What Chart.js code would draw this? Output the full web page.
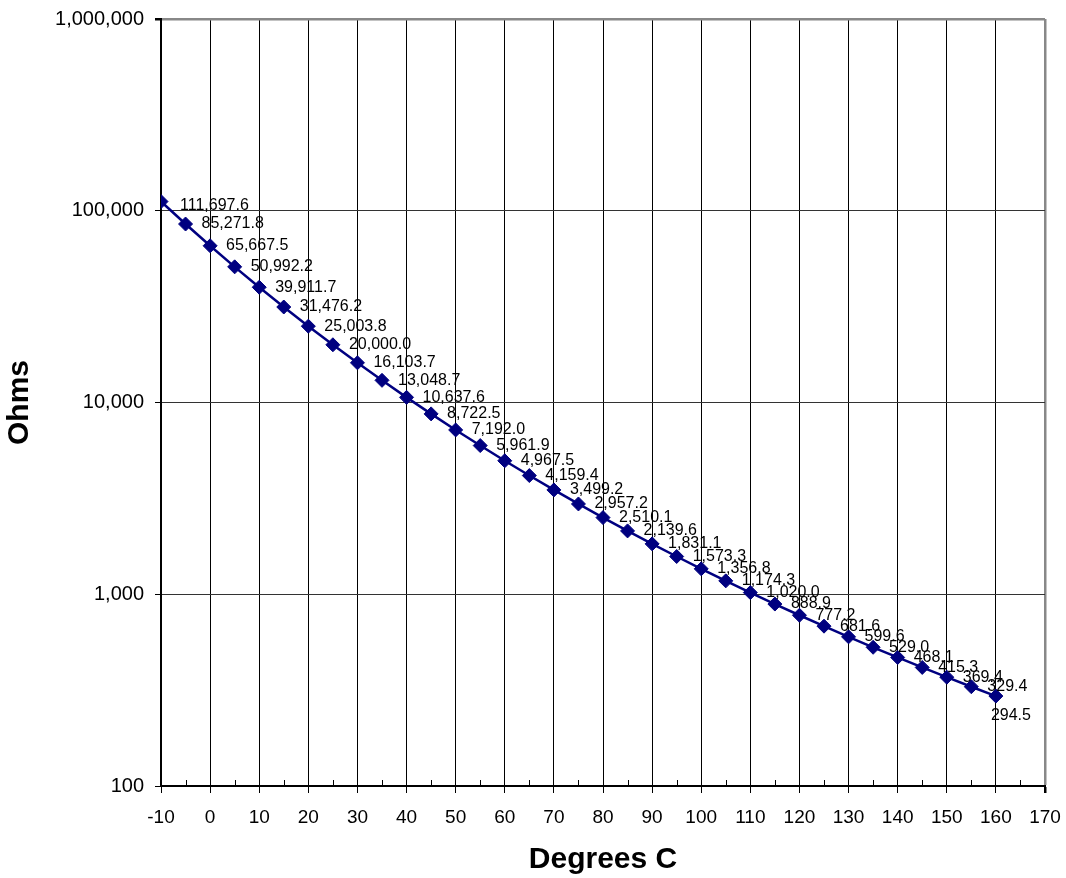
<!DOCTYPE html>
<html>
<head>
<meta charset="utf-8">
<script src="https://cdn.jsdelivr.net/npm/chart.js@4/dist/chart.umd.min.js"></script>
<style>
  body { margin: 0; background: #fff; }
  canvas { display: block; }
</style>
</head>
<body>
<canvas id="thermChart" width="1066" height="878"></canvas>
<script>
const temps = [-10, -5, 0, 5, 10, 15, 20, 25, 30, 35, 40, 45, 50, 55, 60, 65, 70, 75, 80, 85,
  90, 95, 100, 105, 110, 115, 120, 125, 130, 135, 140, 145, 150, 155, 160];
const ohms = [111697.6, 85271.8, 65667.5, 50992.2, 39911.7, 31476.2, 25003.8, 20000.0, 16103.7,
  13048.7, 10637.6, 8722.5, 7192.0, 5961.9, 4967.5, 4159.4, 3499.2, 2957.2, 2510.1, 2139.6,
  1831.1, 1573.3, 1356.8, 1174.3, 1020.0, 888.9, 777.2, 681.6, 599.6, 529.0, 468.1, 415.3,
  369.4, 329.4, 294.5];
const yTicks = [100, 1000, 10000, 100000, 1000000];
const xMinorTicks = [-5, 5, 15, 25, 35, 45, 55, 65, 75, 85, 95, 105, 115, 125, 135, 145, 155, 165];

const FONT = "Arial, 'Liberation Sans', sans-serif";

// point labels, drawn to the right of each marker (last one sits under it)
const pointLabels = {
  id: 'pointLabels',
  afterDatasetsDraw(chart) {
    const ctx = chart.ctx;
    const pts = chart.getDatasetMeta(0).data;
    ctx.save();
    ctx.font = '16px ' + FONT;
    ctx.fillStyle = '#000';
    ctx.textAlign = 'left';
    ctx.textBaseline = 'middle';
    pts.forEach((p, i) => {
      const txt = ohms[i].toLocaleString('en-US', {minimumFractionDigits: 1, maximumFractionDigits: 1});
      if (i === pts.length - 1) {
        ctx.fillText(txt, p.x - 5, p.y + 20);
      } else if (i === 0) {
        ctx.fillText(txt, p.x + 19, p.y + 4);
      } else {
        ctx.fillText(txt, p.x + 16, p.y);
      }
    });
    ctx.restore();
  }
};

// small ticks between the labelled ones, pointing up into the plot
const minorTicks = {
  id: 'minorTicks',
  afterDraw(chart) {
    const ctx = chart.ctx;
    const x = chart.scales.x;
    const bottom = chart.chartArea.bottom;
    ctx.save();
    ctx.strokeStyle = '#000';
    ctx.lineWidth = 1;
    ctx.beginPath();
    xMinorTicks.forEach(v => {
      const px = Math.round(x.getPixelForValue(v)) + 0.5;
      ctx.moveTo(px, bottom - 6);
      ctx.lineTo(px, bottom);
    });
    ctx.stroke();
    ctx.restore();
  }
};

new Chart('thermChart', {
  type: 'line',
  data: {
    datasets: [{
      data: temps.map((t, i) => ({x: t, y: ohms[i]})),
      borderColor: '#000080',
      backgroundColor: '#000080',
      borderWidth: 2.5,
      pointStyle: 'rectRot',
      pointRadius: 7,
      pointBorderWidth: 1,
      pointBackgroundColor: '#000080',
      pointBorderColor: '#000080',
      tension: 0
    }]
  },
  options: {
    responsive: false,
    animation: false,
    devicePixelRatio: 1,
    layout: { padding: { left: 2, right: 21, top: 19, bottom: 0 } },
    plugins: {
      legend: { display: false },
      tooltip: { enabled: false }
    },
    scales: {
      x: {
        type: 'linear',
        min: -10,
        max: 170,
        afterFit: s => { s.height = 92; },
        ticks: {
          stepSize: 10,
          padding: 5,
          color: '#000',
          font: { family: FONT, size: 19, lineHeight: 2.04 }
        },
        grid: {
          color: c => c.tick && c.tick.value === 170 ? '#888' : '#000',
          lineWidth: c => c.tick && c.tick.value === 170 ? 2.5 : 1,
          tickColor: '#000',
          tickLength: 7
        },
        border: { color: '#000', width: 2 },
        title: {
          display: true,
          text: 'Degrees C',
          color: '#000',
          padding: 0,
          font: { family: FONT, size: 30, weight: 'bold' }
        }
      },
      y: {
        type: 'logarithmic',
        min: 100,
        max: 1000000,
        afterFit: s => { s.width = 159; },
        afterBuildTicks: s => { s.ticks = yTicks.map(v => ({value: v})); },
        ticks: {
          padding: 11,
          color: '#000',
          font: { family: FONT, size: 20, lineHeight: 0.7 },
          callback: v => Number(v).toLocaleString('en-US')
        },
        grid: {
          color: c => c.tick && c.tick.value === 1000000 ? '#888' : '#333',
          lineWidth: c => c.tick && c.tick.value === 1000000 ? 2.5 : 1,
          tickColor: '#000',
          tickLength: 6
        },
        border: { color: '#000', width: 2 },
        title: {
          display: true,
          text: 'Ohms',
          color: '#000',
          padding: 0,
          font: { family: FONT, size: 30, weight: 'bold' }
        }
      }
    }
  },
  plugins: [pointLabels, minorTicks]
});
</script>
</body>
</html>
